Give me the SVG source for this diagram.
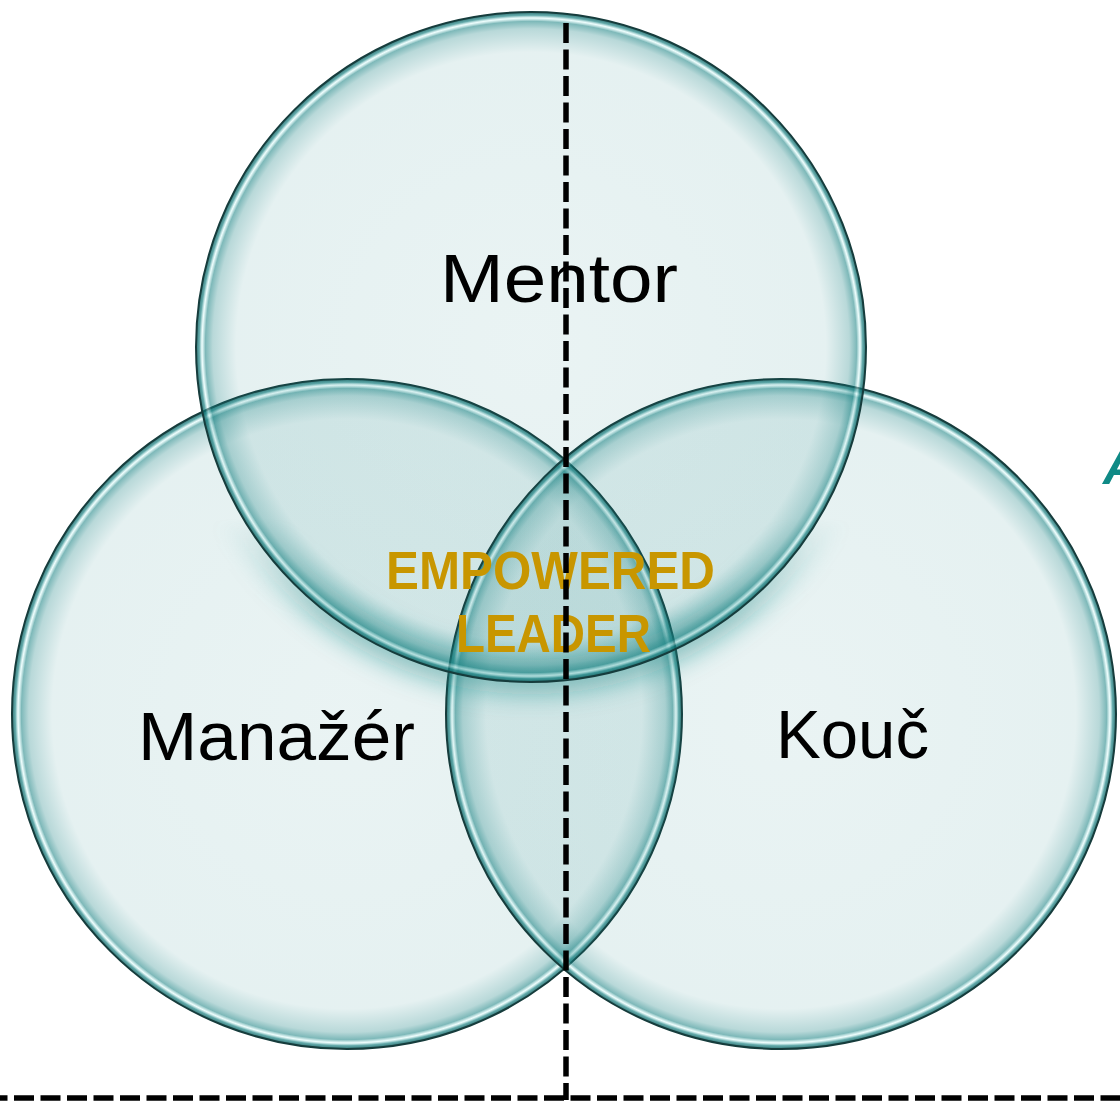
<svg xmlns="http://www.w3.org/2000/svg" width="1120" height="1102" viewBox="0 0 1120 1102">
  <defs>
    <radialGradient id="glass" cx="0.5" cy="0.5" r="0.5">
      <stop offset="0" stop-color="#147f80" stop-opacity="0.09"/>
      <stop offset="0.88" stop-color="#147f80" stop-opacity="0.11"/>
      <stop offset="0.95" stop-color="#147f80" stop-opacity="0.3"/>
      <stop offset="0.972" stop-color="#147f80" stop-opacity="0.55"/>
      <stop offset="0.982" stop-color="#d8fbfa" stop-opacity="0.45"/>
      <stop offset="0.99" stop-color="#147f80" stop-opacity="0.65"/>
      <stop offset="1" stop-color="#0c5a5a" stop-opacity="0.85"/>
    </radialGradient>
    <filter id="blur" x="-20%" y="-20%" width="140%" height="140%">
      <feGaussianBlur stdDeviation="12"/>
    </filter>
    <linearGradient id="lowfade" x1="0" y1="0" x2="0" y2="1">
      <stop offset="0" stop-color="#fff" stop-opacity="0"/>
      <stop offset="0.72" stop-color="#fff" stop-opacity="0"/>
      <stop offset="0.86" stop-color="#fff" stop-opacity="1"/>
      <stop offset="1" stop-color="#fff" stop-opacity="1"/>
    </linearGradient>
    <mask id="lowmask" maskUnits="userSpaceOnUse" x="0" y="0" width="1120" height="1102">
      <rect x="150" y="0" width="820" height="720" fill="url(#lowfade)"/>
    </mask>
    <clipPath id="lrclip">
      <circle cx="347" cy="714" r="335"/>
      <circle cx="781" cy="714" r="335"/>
    </clipPath>
  </defs>
  <style>
    .circ { fill: url(#glass); stroke: #163c3c; stroke-width: 2; }
    .lbl { font-family: "Liberation Sans", Arial, sans-serif; font-size: 68px; fill: #000; }
    .gold { font-family: "Liberation Sans", Arial, sans-serif; font-weight: bold; font-size: 53px; fill: #c89600; }
    .dash { stroke: #000; stroke-width: 5.5; fill: none; stroke-dasharray: 20 6.5; }
  </style>
  <rect width="1120" height="1102" fill="#fff"/>

  <g id="manazer">
    <circle class="circ" cx="347" cy="714" r="335"/>
    <text class="lbl" x="138" y="760" textLength="277" lengthAdjust="spacingAndGlyphs">Manažér</text>
  </g>
  <g id="kouc">
    <circle class="circ" cx="781" cy="714" r="335"/>
    <text class="lbl" x="776" y="758" textLength="153" lengthAdjust="spacingAndGlyphs">Kouč</text>
  </g>
  <g id="mentor-shadow" clip-path="url(#lrclip)">
    <g mask="url(#lowmask)">
      <circle cx="531" cy="347" r="330" fill="none" stroke="#1a8784" stroke-opacity="0.45" stroke-width="34" filter="url(#blur)"/>
    </g>
  </g>
  <g id="mentor">
    <circle class="circ" cx="531" cy="347" r="335"/>
    <text class="lbl" x="440" y="302" textLength="238" lengthAdjust="spacingAndGlyphs">Mentor</text>
  </g>
  <g id="empowered-leader">
    <text class="gold" x="386" y="589" textLength="329" lengthAdjust="spacingAndGlyphs">EMPOWERED</text>
    <text class="gold" x="456" y="652" textLength="195" lengthAdjust="spacingAndGlyphs">LEADER</text>
  </g>
  <g id="edge-label">
    <text x="1103" y="484" font-family="Liberation Sans, Arial, sans-serif" font-weight="bold" font-style="italic" font-size="50" fill="#0f8a86">A</text>
  </g>
  <g id="connectors">
    <line class="dash" x1="566" y1="23" x2="566" y2="1100"/>
    <line class="dash" x1="0" y1="1098" x2="1120" y2="1098" stroke-dashoffset="12.5"/>
  </g>
</svg>
